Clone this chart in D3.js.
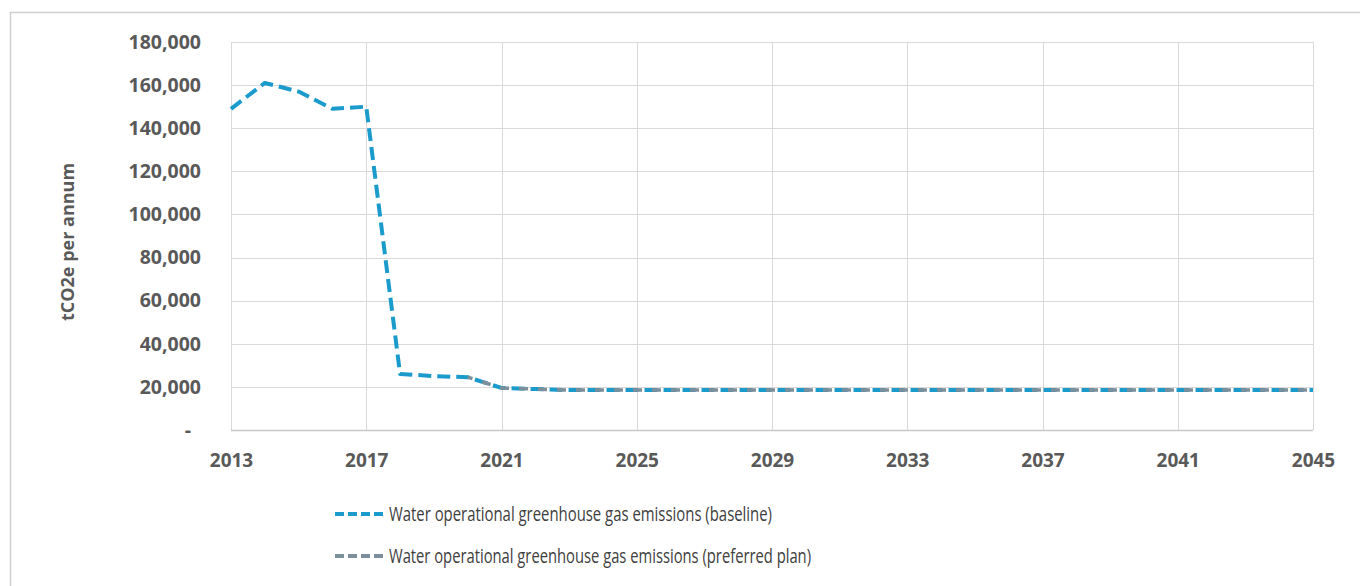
<!DOCTYPE html>
<html>
<head>
<meta charset="utf-8">
<script src="https://cdn.jsdelivr.net/npm/d3@7"></script>
<style>
  html, body { margin: 0; padding: 0; background: #fff; }
  svg { display: block; }
</style>
</head>
<body>
<svg id="chart" width="1360" height="586"></svg>
<script>
// Years on the x axis
const years = d3.range(2013, 2046);

// Baseline emissions, tCO2e per annum
const baseline = [
  149000, 161000, 157000, 149000, 150000, 26000, 25000, 24500,
  19500, 19000, 18500, 18500, 18500, 18500, 18500, 18500, 18500,
  18500, 18500, 18500, 18500, 18500, 18500, 18500, 18500, 18500,
  18500, 18500, 18500, 18500, 18500, 18500, 18500
];

// Preferred plan emissions (reported from 2020 on)
const preferredYears = d3.range(2020, 2046);
const preferred = [
  24500, 19500, 19000, 18500, 18500, 18500, 18500, 18500, 18500,
  18500, 18500, 18500, 18500, 18500, 18500, 18500, 18500, 18500,
  18500, 18500, 18500, 18500, 18500, 18500, 18500, 18500
];

const xTicks = [2013, 2017, 2021, 2025, 2029, 2033, 2037, 2041, 2045];
const yTicks = [0, 20000, 40000, 60000, 80000, 100000, 120000, 140000, 160000, 180000];

const seriesNames = [
  "Water operational greenhouse gas emissions (baseline)",
  "Water operational greenhouse gas emissions (preferred plan)"
];
const legendWidths = [383, 422];
const colors = ["#1b9bcb", "#7d8f9b"];

const svg = d3.select("#chart");
const plot = { left: 231, right: 1313, top: 42, bottom: 430 };

const x = d3.scaleLinear().domain([2013, 2045]).range([plot.left, plot.right]);
const y = d3.scaleLinear().domain([0, 180000]).range([plot.bottom, plot.top]);

// Outer chart frame
svg.append("rect")
  .attr("x", 10.5).attr("y", 12.5)
  .attr("width", 1360).attr("height", 600)
  .attr("fill", "none").attr("stroke", "#d0d0d0").attr("stroke-width", 1.5);

// Horizontal gridlines
svg.append("g")
  .selectAll("line").data(yTicks.filter(d => d > 0)).join("line")
  .attr("x1", plot.left).attr("x2", plot.right)
  .attr("y1", d => Math.round(y(d)) + 0.5).attr("y2", d => Math.round(y(d)) + 0.5)
  .attr("stroke", "#d9d9d9").attr("stroke-width", 1);

// Vertical gridlines
svg.append("g")
  .selectAll("line").data(xTicks).join("line")
  .attr("x1", d => Math.round(x(d)) + 0.5).attr("x2", d => Math.round(x(d)) + 0.5)
  .attr("y1", plot.top).attr("y2", plot.bottom)
  .attr("stroke", "#d9d9d9").attr("stroke-width", 1);

// Bottom axis line
svg.append("line")
  .attr("x1", plot.left).attr("x2", plot.right)
  .attr("y1", plot.bottom + 0.5).attr("y2", plot.bottom + 0.5)
  .attr("stroke", "#c8c8c8").attr("stroke-width", 1.5);

// Y axis labels
const yFmt = d => d === 0 ? "-" : d3.format(",")(d);
const yAxis = d3.axisLeft(y).tickValues(yTicks).tickFormat(yFmt).tickSize(0).tickPadding(0);
const gy = svg.append("g").attr("transform", `translate(${plot.left - 30},0)`).call(yAxis);
gy.select(".domain").remove();
gy.selectAll("text")
  .attr("font-family", "'Open Sans', sans-serif")
  .attr("font-weight", "bold")
  .attr("font-size", 19.5)
  .attr("fill", "#595959")
  .attr("dx", d => d === 0 ? -10 : 0);

// X axis labels
const xAxis = d3.axisBottom(x).tickValues(xTicks).tickFormat(d3.format("d")).tickSize(0).tickPadding(0);
const gx = svg.append("g").attr("transform", `translate(0,${plot.bottom + 23})`).call(xAxis);
gx.select(".domain").remove();
gx.selectAll("text")
  .attr("font-family", "'Open Sans', sans-serif")
  .attr("font-weight", "bold")
  .attr("font-size", 19)
  .attr("fill", "#595959");

// Y axis title
svg.append("text")
  .attr("transform", `translate(74,${(plot.top + plot.bottom) / 2 + 6}) rotate(-90)`)
  .attr("text-anchor", "middle")
  .attr("font-family", "'Open Sans', sans-serif")
  .attr("font-weight", "bold")
  .attr("font-size", 18)
  .attr("fill", "#595959")
  .text("tCO2e per annum");

// Series lines
const line = d3.line().x(d => x(d[0])).y(d => y(d[1]));

svg.append("path")
  .datum(years.map((yr, i) => [yr, baseline[i]]))
  .attr("d", line)
  .attr("fill", "none")
  .attr("stroke", colors[0])
  .attr("stroke-width", 4)
  .attr("stroke-dasharray", "13,6")
  .attr("stroke-linejoin", "round");

svg.append("path")
  .datum(preferredYears.map((yr, i) => [yr, preferred[i]]))
  .attr("d", line)
  .attr("fill", "none")
  .attr("stroke", colors[1])
  .attr("stroke-width", 3.5)
  .attr("stroke-dasharray", "9,10")
  .attr("stroke-dashoffset", 4)
  .attr("stroke-linejoin", "round");

// Legend
const legend = svg.append("g");
seriesNames.forEach((name, i) => {
  const ly = 514 + i * 42;
  legend.append("line")
    .attr("x1", 335).attr("x2", 385)
    .attr("y1", ly).attr("y2", ly)
    .attr("stroke", colors[i])
    .attr("stroke-width", 4)
    .attr("stroke-dasharray", "9,4");
  legend.append("text")
    .attr("x", 389).attr("y", ly)
    .attr("dy", "0.35em")
    .attr("font-family", "'Open Sans', sans-serif")
    .attr("font-size", 20)
    .attr("textLength", legendWidths[i])
    .attr("lengthAdjust", "spacingAndGlyphs")
    .attr("fill", "#404040")
    .text(name);
});
</script>
</body>
</html>
